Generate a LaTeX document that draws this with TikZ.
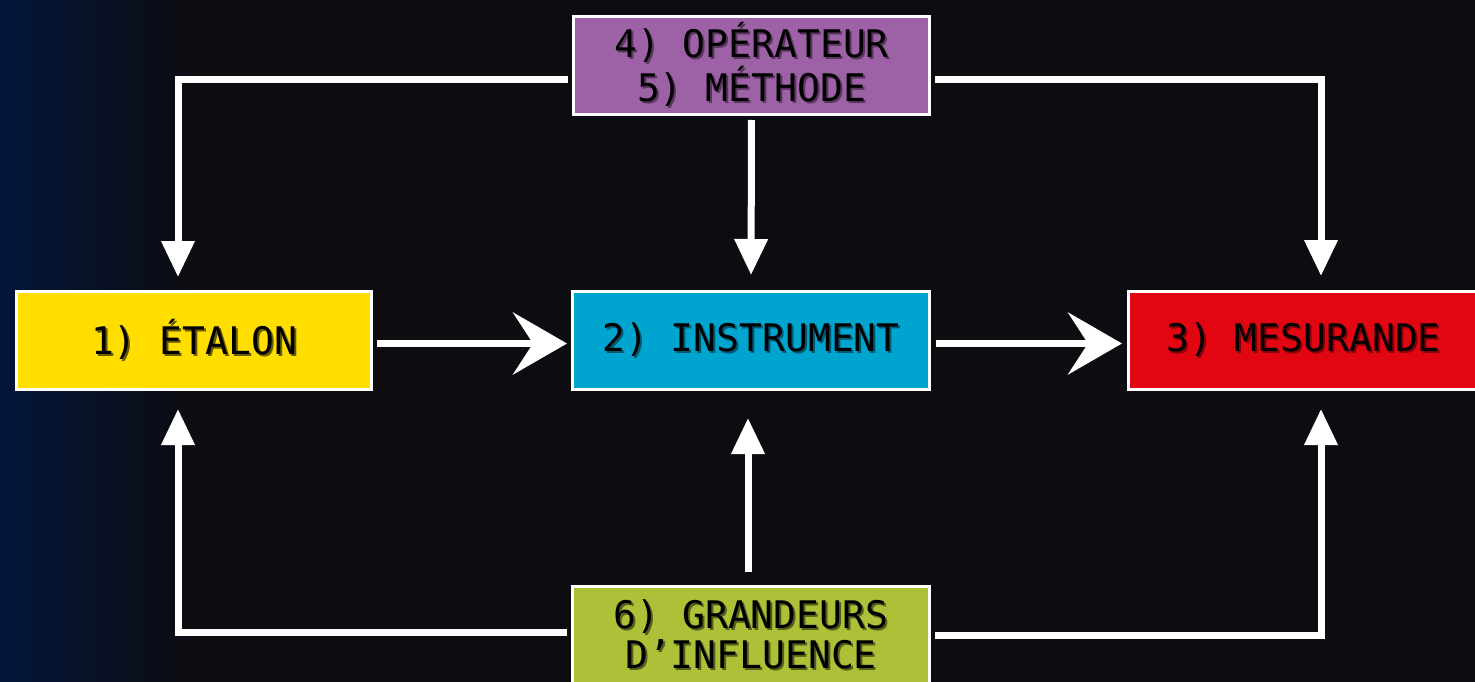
\documentclass[tikz,border=0pt]{standalone}
\usepackage{fontspec}
\usetikzlibrary{arrows.meta}
\newfontfamily\boxfont{DejaVu Sans Mono}

% palette
\definecolor{bgdark}{HTML}{0C0C11}
\definecolor{bgnavy}{HTML}{04163A}
\definecolor{cyellow}{HTML}{FFDE00}
\definecolor{cblue}{HTML}{00A5CF}
\definecolor{cred}{HTML}{E20613}
\definecolor{cpurple}{HTML}{9C62A5}
\definecolor{colive}{HTML}{AEBF38}
\definecolor{syellow}{HTML}{6A5C00}
\definecolor{sblue}{HTML}{005A72}
\definecolor{sred}{HTML}{860008}
\definecolor{spurple}{HTML}{5A3560}
\definecolor{solive}{HTML}{55601A}

% text with a soft drop shadow in a darker tone
\newcommand\shtxt[2]{\leavevmode\rlap{\hspace{2pt}\raisebox{-2pt}{\textcolor{#1}{#2}}}#2}

\begin{document}
\begin{tikzpicture}[x=1pt,y=-1pt,
  stepbox/.style={draw=white, line width=3pt, minimum width=355pt, minimum height=98pt,
    inner sep=0pt, align=center, text=black,
    font=\boxfont\fontsize{38}{40}\selectfont},
  link/.style={draw=white, line width=7pt},
  tri/.style={link, -{Triangle[width=32pt,length=36pt]}},
  chev/.style={link, -{Stealth[width=62pt,length=54pt,inset=20pt]}}]

% backdrop
\useasboundingbox (0,0) rectangle (1475,682);
\clip (0,0) rectangle (1475,682);
\fill[bgdark] (0,0) rectangle (1475,682);
\shade[left color=bgnavy, right color=bgdark] (0,0) rectangle (190,682);

% boxes
\node[stepbox, fill=cyellow] (et) at (194,340.5) {\shtxt{syellow}{1) ÉTALON}};
\node[stepbox, fill=cblue, minimum width=357pt] (in) at (751,340.5) {\shtxt{sblue}{2) INSTRUMENT}};
\node[stepbox, fill=cred, minimum width=350pt] (me) at (1303.5,340.5) {\shtxt{sred}{3) MESURANDE}};
\node[stepbox, fill=cpurple, minimum width=356pt] (op) at (751.5,65.5)
  {\shtxt{spurple}{4) OPÉRATEUR}\\\shtxt{spurple}{5) MÉTHODE}};
\node[stepbox, fill=colive, minimum width=357pt] (gr) at (751,635.5)
  {\shtxt{solive}{6) GRANDEURS}\\\shtxt{solive}{D’INFLUENCE}};

% main chain
\draw[chev, shorten <=4pt, shorten >=4pt] ([yshift=-3pt]et.east) -- ([yshift=-3pt]in.west);
\draw[chev, shorten <=5pt, shorten >=5pt] ([yshift=-3pt]in.east) -- ([yshift=-3pt]me.west);

% operator and method
\draw[tri, shorten <=4pt, shorten >=13pt] ([yshift=-14.5pt]op.west) -| ([xshift=-16pt]et.north);
\draw[tri, shorten <=4pt, shorten >=15pt] (op.south) -- (in.north);
\draw[tri, shorten <=4pt, shorten >=14pt] ([yshift=-14.5pt]op.east) -| ([xshift=17.5pt]me.north);

% influence quantities
\draw[tri, shorten <=4pt, shorten >=18pt] ([yshift=3.5pt]gr.west) -| ([xshift=-16pt]et.south);
\draw[tri, shorten <=13pt, shorten >=27pt] ([xshift=-3pt]gr.north) -- ([xshift=-3pt]in.south);
\draw[tri, shorten <=4pt, shorten >=18pt] (gr.east) -| ([xshift=17.5pt]me.south);
\end{tikzpicture}
\end{document}
